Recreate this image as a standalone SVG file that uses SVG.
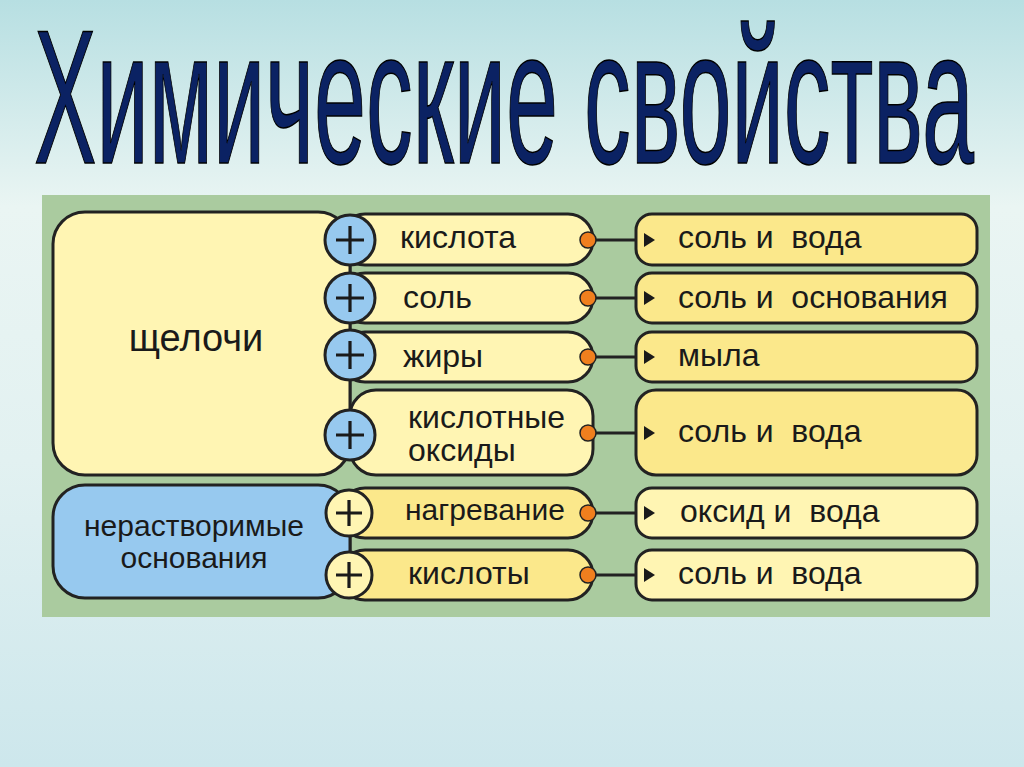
<svg xmlns="http://www.w3.org/2000/svg" width="1024" height="767" viewBox="0 0 1024 767">
<defs>
<linearGradient id="bg" x1="0" y1="0" x2="0" y2="1">
<stop offset="0" stop-color="#b7dfe2"/>
<stop offset="0.27" stop-color="#eaf5f3"/>
<stop offset="0.6" stop-color="#e2f1f1"/>
<stop offset="1" stop-color="#cde7ec"/>
</linearGradient>
<style>
.t{font-family:"Liberation Sans",Arial,sans-serif;fill:#1a1a1a}
.lab{font-size:32px}
.sm{font-size:30px}
.big{font-size:38px}
.pale{fill:#fff5b3;stroke:#222;stroke-width:3}
.deep{fill:#fbe88b;stroke:#222;stroke-width:3}
.blue{fill:#97c9ef;stroke:#222;stroke-width:3}
.plus{stroke:#1a1a1a;stroke-width:3.2;fill:none}
.dot{fill:#f07f1e;stroke:#222;stroke-width:1.5}
.ln{stroke:#222;stroke-width:3;fill:none}
.tri{fill:#1a1a1a}
</style>
</defs>
<rect x="0" y="0" width="1024" height="767" fill="url(#bg)"/>
<text x="34" y="163" font-family="'Liberation Sans',Arial,sans-serif" font-size="192" fill="#0b2263" stroke="#000" stroke-width="1.5" textLength="940" lengthAdjust="spacingAndGlyphs">Химические свойства</text>
<rect x="42" y="195" width="948" height="422" fill="#aacb9f"/>

<g id="connectors">
<line class="ln" x1="350" y1="240" x2="350" y2="435"/>
<line class="ln" x1="350" y1="513" x2="350" y2="576"/>
<line class="ln" x1="588" y1="240" x2="636" y2="240"/>
<line class="ln" x1="588" y1="298" x2="636" y2="298"/>
<line class="ln" x1="588" y1="357" x2="636" y2="357"/>
<line class="ln" x1="588" y1="433" x2="636" y2="433"/>
<line class="ln" x1="588" y1="513" x2="636" y2="513"/>
<line class="ln" x1="588" y1="575" x2="636" y2="575"/>
</g>

<g id="alkali">
<rect class="pale" x="53" y="212" width="297" height="263" rx="32"/>
<text class="t big" x="196" y="351" text-anchor="middle">щелочи</text>
</g>
<g id="insoluble">
<rect class="blue" x="53" y="485" width="297" height="113" rx="32"/>
<text class="t sm" x="194" y="536" text-anchor="middle">нерастворимые</text>
<text class="t sm" x="194" y="568" text-anchor="middle">основания</text>
</g>

<g id="r1">
<rect class="pale" x="340" y="214" width="253" height="51" rx="25"/>
<text class="t lab" x="400" y="248">кислота</text>
<circle class="dot" cx="588" cy="240" r="8"/>
<rect class="deep" x="636" y="214" width="341" height="51" rx="16"/>
<path class="tri" d="M644 233 L655 240 L644 247 Z"/>
<text class="t lab" x="678" y="248" xml:space="preserve">соль и  вода</text>
<circle class="blue" cx="350" cy="240" r="25"/>
<path class="plus" d="M336 240 H364 M350 226 V254"/>
</g>
<g id="r2">
<rect class="pale" x="340" y="273" width="253" height="50" rx="25"/>
<text class="t lab" x="403" y="308">соль</text>
<circle class="dot" cx="588" cy="298" r="8"/>
<rect class="deep" x="636" y="273" width="341" height="50" rx="16"/>
<path class="tri" d="M644 291 L655 298 L644 305 Z"/>
<text class="t lab" x="678" y="308" xml:space="preserve">соль и  основания</text>
<circle class="blue" cx="350" cy="298" r="25"/>
<path class="plus" d="M336 298 H364 M350 284 V312"/>
</g>
<g id="r3">
<rect class="pale" x="340" y="332" width="253" height="50" rx="25"/>
<text class="t lab" x="403" y="367">жиры</text>
<circle class="dot" cx="588" cy="357" r="8"/>
<rect class="deep" x="636" y="332" width="341" height="50" rx="16"/>
<path class="tri" d="M644 350 L655 357 L644 364 Z"/>
<text class="t lab" x="678" y="366">мыла</text>
<circle class="blue" cx="350" cy="355" r="25"/>
<path class="plus" d="M336 355 H364 M350 341 V369"/>
</g>
<g id="r4">
<rect class="pale" x="350" y="390" width="243" height="85" rx="26"/>
<text class="t lab" x="408" y="428">кислотные</text>
<text class="t lab" x="408" y="461">оксиды</text>
<circle class="dot" cx="588" cy="433" r="8"/>
<rect class="deep" x="636" y="390" width="341" height="85" rx="20"/>
<path class="tri" d="M644 426 L655 433 L644 440 Z"/>
<text class="t lab" x="678" y="442" xml:space="preserve">соль и  вода</text>
<circle class="blue" cx="350" cy="435" r="25"/>
<path class="plus" d="M336 435 H364 M350 421 V449"/>
</g>
<g id="r5">
<rect class="deep" x="340" y="488" width="253" height="50" rx="25"/>
<text class="t sm" x="405" y="520">нагревание</text>
<circle class="dot" cx="588" cy="513" r="8"/>
<rect class="pale" x="636" y="488" width="341" height="50" rx="16"/>
<path class="tri" d="M644 506 L655 513 L644 520 Z"/>
<text class="t lab" x="680" y="522" xml:space="preserve">оксид и  вода</text>
<circle class="pale" cx="349" cy="513" r="23"/>
<path class="plus" d="M336 513 H362 M349 500 V526"/>
</g>
<g id="r6">
<rect class="deep" x="340" y="550" width="253" height="50" rx="25"/>
<text class="t lab" x="408" y="584">кислоты</text>
<circle class="dot" cx="588" cy="575" r="8"/>
<rect class="pale" x="636" y="550" width="341" height="50" rx="16"/>
<path class="tri" d="M644 568 L655 575 L644 582 Z"/>
<text class="t lab" x="678" y="584" xml:space="preserve">соль и  вода</text>
<circle class="pale" cx="349" cy="575" r="23"/>
<path class="plus" d="M336 575 H362 M349 562 V588"/>
</g>
</svg>
